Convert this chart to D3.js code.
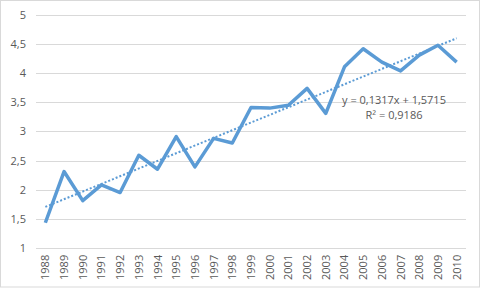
<!DOCTYPE html>
<html>
<head>
<meta charset="utf-8">
<script src="https://cdn.jsdelivr.net/npm/d3@7"></script>
<style>
body { margin:0; background:#fff; }
text { font-family: "Open Sans", "Liberation Sans", sans-serif; fill:#595959; }
</style>
</head>
<body>
<div id="chart"></div>
<script>
var years = ["1988","1989","1990","1991","1992","1993","1994","1995","1996","1997","1998","1999",
             "2000","2001","2002","2003","2004","2005","2006","2007","2008","2009","2010"];
var values = [1.43,2.31,1.81,2.08,1.95,2.59,2.35,2.91,2.39,2.88,2.80,3.41,
              3.40,3.45,3.74,3.31,4.11,4.42,4.19,4.04,4.31,4.48,4.19];
var yTicks = [1,1.5,2,2.5,3,3.5,4,4.5,5];
var trendSlope = 0.1317;
var trendIntercept = 1.5715;
var trendLabel = ["y = 0,1317x + 1,5715", "R² = 0,9186"];

var W = 481, H = 290;
var margin = { left:36, right:15, top:15, bottom:42 };
var w = 466 - margin.left;
var h = 247.8 - margin.top;

var svg = d3.select("#chart")
    .append("svg")
    .attr("width", W)
    .attr("height", H);

// outer chart border
svg.append("rect")
    .attr("x", 0.5)
    .attr("y", 0.5)
    .attr("width", 479)
    .attr("height", 286.5)
    .attr("fill", "#fff")
    .attr("stroke", "#d9d9d9")
    .attr("stroke-width", 1);

var g = svg.append("g")
    .attr("transform", "translate(" + margin.left + "," + margin.top + ")");

var xScale = d3.scaleBand()
    .domain(years)
    .range([0, w]);

var yScale = d3.scaleLinear()
    .domain([1, 5])
    .range([h, 0]);

var fmt = function(d) { return String(d).replace(".", ","); };

// gridlines
g.selectAll(".grid")
    .data(yTicks)
    .enter()
    .append("line")
    .attr("class", "grid")
    .attr("x1", 0)
    .attr("x2", w)
    .attr("y1", function(d) { return Math.round(yScale(d)) + 0.5; })
    .attr("y2", function(d) { return Math.round(yScale(d)) + 0.5; })
    .attr("stroke", "#d9d9d9")
    .attr("stroke-width", 1);

// y labels
g.selectAll(".ylab")
    .data(yTicks)
    .enter()
    .append("text")
    .attr("class", "ylab")
    .attr("x", -10)
    .attr("y", function(d) { return yScale(d) + 4; })
    .attr("text-anchor", "end")
    .attr("font-size", 11)
    .text(fmt);

// x labels (rotated)
g.selectAll(".xlab")
    .data(years)
    .enter()
    .append("text")
    .attr("class", "xlab")
    .attr("text-anchor", "end")
    .attr("font-size", 11)
    .attr("transform", function(d) {
        var cx = xScale(d) + xScale.bandwidth() / 2 + 4;
        return "translate(" + cx + "," + (h + 7) + ") rotate(-90)";
    })
    .text(function(d) { return d; });

// trend line
var x0 = xScale(years[0]) + xScale.bandwidth() / 2;
var x1 = xScale(years[years.length - 1]) + xScale.bandwidth() / 2;
g.append("line")
    .attr("x1", x0)
    .attr("x2", x1)
    .attr("y1", yScale(trendSlope * 1 + trendIntercept))
    .attr("y2", yScale(trendSlope * years.length + trendIntercept))
    .attr("stroke", "#5b9bd5")
    .attr("stroke-width", 2)
    .attr("stroke-dasharray", "2,2");

// data line
var line = d3.line()
    .x(function(d, i) { return xScale(years[i]) + xScale.bandwidth() / 2; })
    .y(function(d) { return yScale(d); });

g.append("path")
    .datum(values)
    .attr("d", line)
    .attr("fill", "none")
    .attr("stroke", "#5b9bd5")
    .attr("stroke-width", 3.5)
    .attr("stroke-linejoin", "round");

// trend equation
var eq = svg.append("g")
    .attr("transform", "translate(394,0)");

eq.selectAll("text")
    .data(trendLabel)
    .enter()
    .append("text")
    .attr("x", 0)
    .attr("y", function(d, i) { return 104 + i * 15; })
    .attr("text-anchor", "middle")
    .attr("font-size", 11)
    .text(function(d) { return d; });
</script>
</body>
</html>
